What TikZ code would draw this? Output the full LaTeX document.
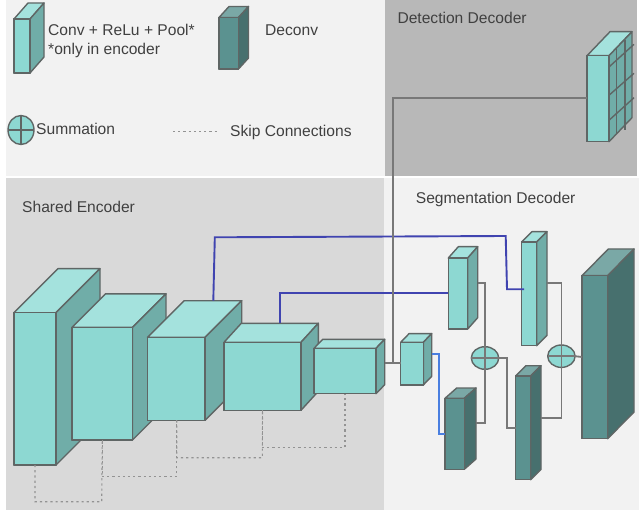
\documentclass[tikz,border=0pt]{standalone}
\usepackage{fontspec}
\setmainfont{Liberation Sans}
\usepackage{tikz}
\usetikzlibrary{shapes.geometric, calc}
\definecolor{convfront}{HTML}{8DD8D2}
\definecolor{convtop}{HTML}{A4E2DD}
\definecolor{convside}{HTML}{70ADA8}
\definecolor{deconvfront}{HTML}{5B9290}
\definecolor{deconvtop}{HTML}{7AA8A6}
\definecolor{deconvside}{HTML}{47706E}
\definecolor{edge}{HTML}{5F6665}
\definecolor{wire}{HTML}{787878}
\definecolor{navy}{HTML}{4044B0}
\definecolor{brightblue}{HTML}{4A7FE0}
\definecolor{textgray}{HTML}{404040}
\tikzstyle{face} = [draw=edge, line width=1.4pt, line join=round]
\tikzstyle{front} = [face, rectangle, anchor=north west, inner sep=0pt, outer sep=0pt]
\tikzstyle{sum} = [face, ellipse, fill=convfront, inner sep=0pt, outer sep=0pt]
\tikzstyle{label} = [anchor=base west, inner sep=0pt, text=textgray, font=\fontsize{15.6}{18}\selectfont]
\tikzstyle{line} = [draw=wire, line width=1.8pt]
\tikzstyle{skip} = [draw=wire!80, line width=1.1pt, dash pattern=on 2.2pt off 3pt]
\tikzstyle{shortcut} = [draw=navy, line width=1.9pt]
% name, left, top, width, height, depth x, depth y, colour prefix
\newcommand{\block}[8]{
    \node[front, fill=#8front, minimum width=#4pt, minimum height=#5pt] (#1) at (#2,#3) {};
    \coordinate (#1-back) at ($(#1.north east)+(#6,-#7)$);
    \coordinate (#1-low) at ($(#1.south east)+(#6,-#7)$);
    \path[face, fill=#8top] (#1.north west) -- ($(#1.north west)+(#6,-#7)$) -- (#1-back) -- (#1.north east) -- cycle;
    \path[face, fill=#8side] (#1.north east) -- (#1-back) -- (#1-low) -- (#1.south east) -- cycle;
    \node[front, fill=#8front, minimum width=#4pt, minimum height=#5pt] at (#2,#3) {};
}
\begin{document}
\begin{tikzpicture}[x=1pt,y=-1pt]
    \useasboundingbox (0,0) rectangle (639,510);
    \fill[white] (0,0) rectangle (639,510);
    % panels
    \fill[black!5] (6,0) rectangle (385,176);
    \fill[black!28] (385,0) rectangle (637,176);
    \fill[black!15] (6,178) rectangle (384,510);
    \fill[black!5] (384,178) rectangle (639,510);

    % legend
    \block{legend-conv}{14}{19}{16}{54}{14}{16}{conv}
    \block{legend-deconv}{219}{17.5}{19.5}{51.5}{10}{11}{deconv}
    \node[sum, minimum width=26pt, minimum height=29pt] (legend-sum) at (21,130) {};
    \draw[face] (legend-sum.north) -- (legend-sum.south);
    \draw[face] (legend-sum.west) -- (legend-sum.east);
    \node[label] (legend-conv-text) at (48,36) {Conv + ReLu + Pool*};
    \node[label] (legend-only-text) at (48,55) {*only in encoder};
    \node[label] (legend-deconv-text) at (265,36) {Deconv};
    \node[label] (legend-sum-text) at (36,134.5) {Summation};
    \node[label] (legend-skip-text) at (230,136.5) {Skip Connections};
    \coordinate (legend-skip-a) at (173,131);
    \coordinate (legend-skip-b) at (217,131);
    \draw[skip, line width=0.8pt] (legend-skip-a) -- (legend-skip-b);

    % panel titles
    \node[label] (detection-title) at (397.3,24) {Detection Decoder};
    \node[label] (segmentation-title) at (415.7,203.5) {Segmentation Decoder};
    \node[label] (encoder-title) at (22,213) {Shared Encoder};

    % encoder
    \block{enc-1}{14}{312.7}{42}{152.3}{44}{44}{conv}
    \block{enc-2}{72}{327.3}{60.5}{112.7}{33.5}{33.5}{conv}
    \block{enc-3}{147.5}{337.3}{57.5}{83}{36.7}{36.6}{conv}
    \block{enc-4}{224}{342.3}{77}{68}{17.3}{19}{conv}
    \block{enc-5}{314}{348.3}{62}{45.4}{8.7}{9}{conv}

    % skip connections
    \draw[skip] (35,465) |- (101.7,501.7) -- (enc-2.south);
    \draw[skip] (enc-2.south) |- (176.7,476.7) -- (176.7,420.3);
    \draw[skip] (176.7,420.3) |- (262.3,457.7) -- (enc-4.south);
    \draw[skip] (enc-4.south) |- (345,447.3) -- (enc-5.south);

    % middle and decoders
    \block{mid}{400.7}{342.3}{22.6}{42.7}{8.4}{8.7}{conv}
    \block{seg-1}{448.3}{258}{19.4}{71}{10}{11.3}{conv}
    \block{seg-2}{521.7}{242}{15}{103.7}{10.3}{10.3}{conv}
    \block{up-1}{445}{398.3}{19.3}{71}{11.7}{10.3}{deconv}
    \block{up-2}{515.7}{376}{15}{103.7}{10.3}{10.3}{deconv}
    \block{up-3}{582}{275.7}{25.7}{163}{26.3}{26.7}{deconv}
    \block{det}{587}{55.7}{22}{86}{23}{24}{conv}

    % grid on the detection block
    \coordinate (grid-a1) at (616.7,48);
    \coordinate (grid-a2) at (616.7,133);
    \coordinate (grid-b1) at (625,40);
    \coordinate (grid-b2) at (625,130);
    \draw[face] (grid-a1) -- (grid-a2);
    \draw[face] (grid-b1) -- (grid-b2);
    \draw[face] (609.3,66.7) -- (634,44.3);
    \draw[face] (609.3,95) -- (634,73.3);
    \draw[face] (609.3,120) -- (634,97.7);

    % summations
    \node[sum, minimum width=27.4pt, minimum height=22.6pt] (sum-1) at (485,358) {};
    \node[sum, minimum width=27.4pt, minimum height=22.4pt] (sum-2) at (561.4,356.2) {};

    % shortcut lines
    \coordinate (enc-3-out) at (213.3,300.7);
    \coordinate (enc-4-out) at (279.7,323.3);
    \coordinate (seg-2-in) at (524,289.3);
    \draw[shortcut] (enc-3-out) -- (214.8,237.3) -- (505.7,236) -- (507,289.3) -- (seg-2-in);
    \draw[shortcut] (enc-4-out) -- (279.7,293) -- (448.3,293);
    \draw[draw=brightblue, line width=1.8pt] (431.7,354) -| (439,433.7) -- (up-1.west |- 0,433.7);

    % lines
    \draw[line] (enc-5-low |- 0,362.7) -- (mid.west |- 0,362.7);
    \draw[line] (393.3,362.7) |- (det.west |- 0,98.3);
    \draw[line] (477.7,282.7) -| (sum-1.north);
    \draw[line] (476,423.3) -| (sum-1.south);
    \draw[line] (485,346.7) -- (485,369.3);
    \draw[line] (471.3,358) -- (498.7,358);
    \draw[line] (sum-1.east) -| (507,428) -- (up-2.west |- 0,428);
    \draw[line] (547,282.7) -| (sum-2.north);
    \draw[line] (541,417.7) -| (sum-2.south);
    \draw[line] (561.4,345) -- (561.4,367.4);
    \draw[line] (547.7,356.2) -- (575.1,356.2);
    \draw[line] (sum-2.east) -- (up-3.west |- 0,357);
\end{tikzpicture}
\end{document}
